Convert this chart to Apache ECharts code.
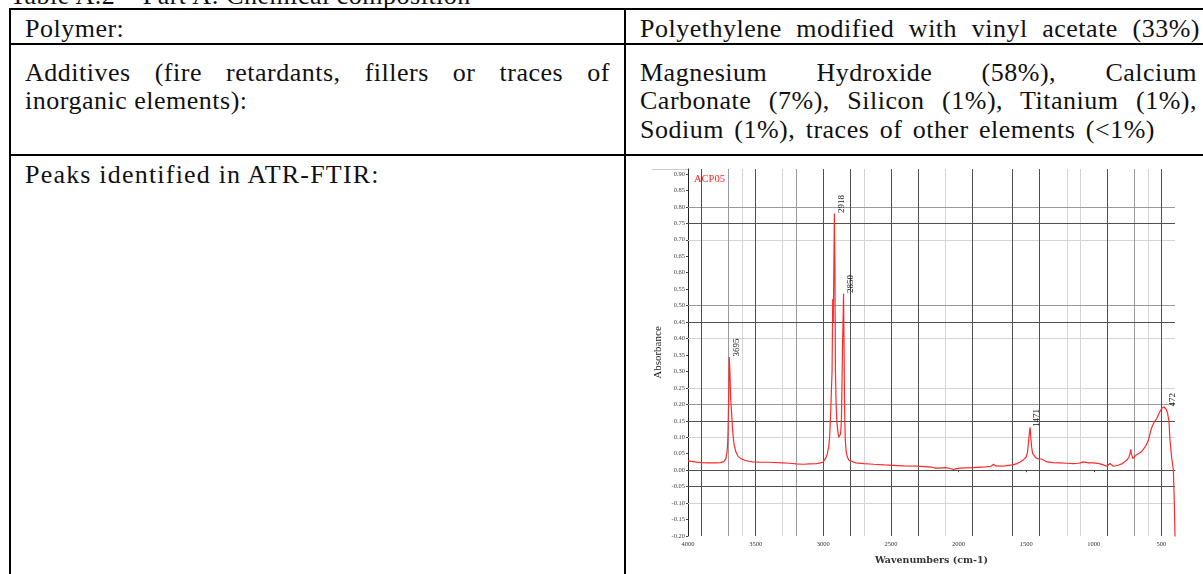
<!DOCTYPE html>
<html>
<head>
<meta charset="utf-8">
<script src="https://cdn.jsdelivr.net/npm/echarts@6/dist/echarts.min.js"></script>
<style>
  html, body { margin: 0; padding: 0; background: #fff; }
  #page { position: relative; width: 1203px; height: 574px; overflow: hidden; background: #fff; }
  .hl { position: absolute; height: 2px; background: #000; }
  .vl { position: absolute; width: 2px; background: #000; }
  .t { position: absolute; font-family: 'Liberation Serif', serif; font-size: 26px; line-height: 26px; letter-spacing: 0.5px; color: #111; white-space: nowrap; }
  .j { text-align: justify; text-align-last: justify; }
  #chart { position: absolute; left: 0; top: 0; width: 1203px; height: 574px; }
</style>
</head>
<body>
<div id="page">
  <div class="t" style="left:10px; top:-17px;">Table A.2 – Part A: Chemical composition</div>
  <div class="hl" style="left:9px; top:8px; width:1194px;"></div>
  <div class="hl" style="left:9px; top:43px; width:1194px;"></div>
  <div class="hl" style="left:9px; top:154px; width:1194px;"></div>
  <div class="vl" style="left:9px; top:8px; height:566px;"></div>
  <div class="vl" style="left:624px; top:8px; height:566px;"></div>
  <div style="position:absolute; left:652px; top:169px; width:36px; height:1px; background:#ccc;"></div>

  <div class="t" style="left:25px; top:15.5px;">Polymer:</div>
  <div class="t j" style="left:640px; top:15.5px; width:560px;">Polyethylene modified with vinyl acetate (33%)</div>

  <div class="t j" style="left:25px; top:60px; width:585px;">Additives (fire retardants, fillers or traces of</div>
  <div class="t" style="left:25px; top:88px;">inorganic elements):</div>

  <div class="t j" style="left:640px; top:60px; width:557px;">Magnesium Hydroxide (58%), Calcium</div>
  <div class="t j" style="left:640px; top:88px; width:557px;">Carbonate (7%), Silicon (1%), Titanium (1%),</div>
  <div class="t j" style="left:640px; top:116.5px; width:515px;">Sodium (1%), traces of other elements (&lt;1%)</div>

  <div class="t" style="left:25px; top:161.5px; letter-spacing:1.2px;">Peaks identified in ATR-FTIR:</div>

  <div id="chart"></div>
</div>
<script>
// ---- data ----
const wavenumbers = [4000, 3950, 3900, 3850, 3800, 3760, 3735, 3720, 3710, 3705, 3700, 3695, 3690, 3685, 3680, 3670, 3660, 3646, 3630, 3609, 3580, 3550, 3523, 3450, 3400, 3300, 3250, 3200, 3150, 3100, 3050, 3020, 3000, 2990, 2980, 2970, 2960, 2953, 2945, 2940, 2935, 2930, 2926, 2922, 2918, 2914, 2910, 2905, 2900, 2893, 2886, 2880, 2872, 2866, 2862, 2858, 2854, 2850, 2847, 2843, 2838, 2832, 2822, 2810, 2798, 2760, 2700, 2628, 2550, 2450, 2400, 2306, 2250, 2200, 2170, 2158, 2145, 2134, 2100, 2060, 2038, 2020, 1986, 1950, 1890, 1800, 1760, 1742, 1725, 1715, 1680, 1642, 1600, 1570, 1544, 1520, 1500, 1490, 1482, 1476, 1471, 1466, 1460, 1452, 1445, 1430, 1410, 1396, 1385, 1379, 1370, 1347, 1300, 1250, 1200, 1150, 1120, 1100, 1077, 1040, 1003, 960, 930, 904, 890, 880, 868, 855, 820, 790, 757, 740, 732, 727, 722, 712, 700, 690, 671, 650, 634, 615, 597, 585, 572, 555, 535, 515, 498, 488, 481, 472, 465, 455, 445, 437, 425, 412, 405, 400];
const absorbance = [0.028, 0.025, 0.023, 0.022, 0.022, 0.023, 0.026, 0.035, 0.06, 0.10, 0.20, 0.344, 0.30, 0.22, 0.19, 0.12, 0.08, 0.055, 0.042, 0.035, 0.030, 0.027, 0.025, 0.024, 0.024, 0.022, 0.021, 0.019, 0.018, 0.019, 0.020, 0.022, 0.025, 0.030, 0.038, 0.050, 0.070, 0.100, 0.180, 0.240, 0.300, 0.520, 0.450, 0.600, 0.780, 0.620, 0.300, 0.200, 0.150, 0.120, 0.100, 0.097, 0.110, 0.150, 0.250, 0.370, 0.450, 0.537, 0.400, 0.200, 0.100, 0.060, 0.040, 0.030, 0.025, 0.022, 0.020, 0.018, 0.016, 0.014, 0.013, 0.012, 0.011, 0.009, 0.006, 0.002, 0.006, 0.010, 0.008, 0.005, 0.002, 0.004, 0.006, 0.007, 0.008, 0.010, 0.012, 0.018, 0.013, 0.011, 0.012, 0.014, 0.016, 0.020, 0.025, 0.032, 0.040, 0.055, 0.090, 0.115, 0.130, 0.100, 0.070, 0.050, 0.045, 0.038, 0.034, 0.032, 0.034, 0.036, 0.030, 0.025, 0.023, 0.022, 0.021, 0.020, 0.021, 0.022, 0.025, 0.022, 0.022, 0.020, 0.016, 0.012, 0.014, 0.020, 0.016, 0.012, 0.015, 0.020, 0.030, 0.040, 0.052, 0.063, 0.050, 0.035, 0.038, 0.045, 0.050, 0.055, 0.063, 0.075, 0.090, 0.110, 0.130, 0.145, 0.157, 0.175, 0.188, 0.190, 0.192, 0.190, 0.185, 0.173, 0.150, 0.090, 0.040, 0.000, -0.100, -0.203];
const peakWavenumbers = [3695, 2918, 2850, 1471, 472];
const peakHeights = [0.344, 0.780, 0.537, 0.130, 0.192];
const xTickLabels = [4000, 3500, 3000, 2500, 2000, 1500, 1000, 500];
const yTickLabels = [0.90, 0.85, 0.80, 0.75, 0.70, 0.65, 0.60, 0.55, 0.50, 0.45, 0.40, 0.35, 0.30, 0.25, 0.20, 0.15, 0.10, 0.05, 0.00, -0.05, -0.10, -0.15, -0.20];
const vGridDark = [3900, 3500, 3000, 2800, 2500, 2300, 1900, 1600, 1400, 900, 500];
const vGridMid = [3700, 3200, 700];
const vGridLight = [3600, 3300, 2700, 2100, 1200, 1100, 600];
const hGridDark = [0.75, 0.45, 0.15, 0.00, -0.05];
const hGridMid = [0.80, 0.50, 0.20];
const hGridLight = [0.915, 0.70, 0.40, 0.25, 0.10, -0.10];
const seriesName = 'ACP05';

const chart = echarts.init(document.getElementById('chart'), null, { renderer: 'canvas' });
const serif = 'Liberation Serif';
function gridMark(xs, ys, color) {
  const d = [];
  xs.forEach(v => d.push({ xAxis: v }));
  ys.forEach(v => d.push({ yAxis: v }));
  return {
    type: 'line', data: [], silent: true, z: 1,
    markLine: { silent: true, symbol: ['none', 'none'], label: { show: false }, animation: false,
      lineStyle: { color: color, width: 1, type: 'solid' }, emphasis: { disabled: true }, data: d }
  };
}
const option = {
  animation: false,
  backgroundColor: 'transparent',
  title: { text: seriesName, left: 689, top: 169, textStyle: { color: '#ff2020', fontSize: 10.5, fontFamily: serif, fontWeight: 'normal' } },
  grid: { left: 688, top: 169, width: 487, height: 367, outerBoundsMode: 'none' },
  xAxis: {
    type: 'value', inverse: true, min: 400, max: 4000,
    name: 'Wavenumbers (cm-1)', nameLocation: 'middle', nameGap: 20,
    nameTextStyle: { fontSize: 9.5, fontFamily: 'DejaVu Serif', fontWeight: 'bold', color: '#333' },
    axisLine: { lineStyle: { color: '#222', width: 1 } },
    axisTick: { show: true, customValues: xTickLabels, length: 2, lineStyle: { color: '#444' } },
    axisLabel: { customValues: xTickLabels, fontSize: 6.5, color: '#333', margin: 5, fontFamily: serif, formatter: v => String(v) },
    splitLine: { show: false }
  },
  yAxis: {
    type: 'value', min: -0.2, max: 0.915,
    name: 'Absorbance', nameLocation: 'middle', nameGap: 24, nameRotate: 90,
    nameTextStyle: { fontSize: 11, fontFamily: serif, color: '#222' },
    axisLine: { show: true, lineStyle: { color: '#222', width: 1 } },
    axisTick: { show: true, customValues: yTickLabels, length: 2, lineStyle: { color: '#444' } },
    axisLabel: { customValues: yTickLabels, fontSize: 6.5, color: '#444', margin: 3, fontFamily: serif, formatter: v => v.toFixed(2) },
    splitLine: { show: false }
  },
  series: [
    gridMark(vGridLight, hGridLight, '#d4d4d4'),
    gridMark(vGridMid, hGridMid, '#9a9a9a'),
    gridMark(vGridDark, hGridDark, '#505050'),
    {
      name: seriesName, type: 'line', z: 5, showSymbol: false, symbol: 'none', clip: true,
      lineStyle: { color: '#ff2a2a', width: 1.2 },
      data: wavenumbers.map((w, i) => [w, absorbance[i]])
    },
    {
      type: 'scatter', z: 6, symbolSize: 1, itemStyle: { color: 'rgba(0,0,0,0)' }, silent: true,
      data: peakWavenumbers.map((w, i) => [w, peakHeights[i]]),
      label: { show: true, opacity: 1, position: [7.5, 0], rotate: 90, align: 'left', verticalAlign: 'middle',
        fontSize: 9, fontFamily: serif, color: '#111', formatter: p => String(p.value[0]) }
    }
  ]
};
chart.setOption(option);
</script>
</body>
</html>
